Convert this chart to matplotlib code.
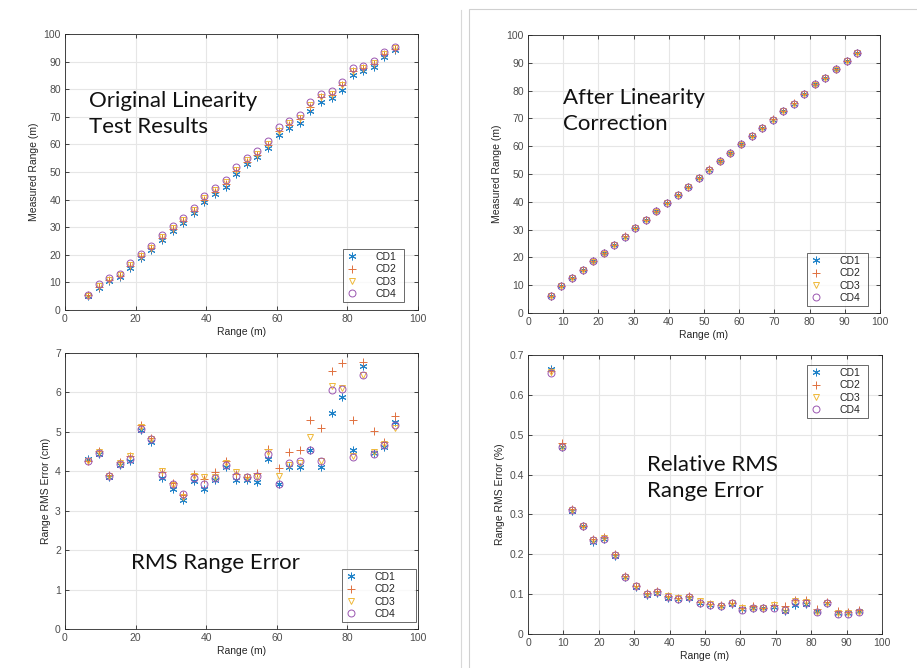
import matplotlib
matplotlib.use("Agg")
import matplotlib.pyplot as plt
from matplotlib.lines import Line2D
from matplotlib.patches import Rectangle

# ---------------- data ----------------
rng_x = [6.5, 9.5, 12.5, 15.5, 18.5, 21.5, 24.5, 27.5, 30.5, 33.5,
         36.5, 39.5, 42.5, 45.5, 48.5, 51.5, 54.5, 57.5, 60.5, 63.5,
         66.5, 69.5, 72.5, 75.5, 78.5, 81.5, 84.5, 87.5, 90.5, 93.5]
series_names = ["CD1", "CD2", "CD3", "CD4"]

# Original linearity (measured range, m)
orig_cd1 = [5.1, 7.9, 10.5, 12.0, 15.3, 18.8, 21.6, 25.4, 28.6, 31.4, 35.0, 39.0, 41.9, 44.7, 49.4,
            52.8, 55.3, 58.6, 63.3, 65.9, 67.7, 72.2, 75.5, 76.9, 79.7, 85.1, 86.5, 88.1, 91.8, 94.3]
orig_cd2 = [5.3, 8.4, 10.9, 12.4, 15.9, 19.5, 22.3, 26.1, 29.4, 32.2, 36.0, 40.0, 42.9, 45.8, 50.4,
            53.8, 56.2, 59.7, 64.7, 67.1, 69.1, 73.6, 77.0, 77.9, 81.4, 86.5, 87.5, 89.2, 92.6, 94.7]
orig_cd3 = [5.2, 8.7, 11.0, 12.6, 16.2, 19.6, 22.6, 26.5, 29.7, 32.6, 36.4, 40.4, 43.3, 46.2, 50.8,
            54.2, 56.7, 60.2, 64.9, 67.6, 69.6, 74.1, 77.1, 78.4, 81.6, 86.7, 87.7, 89.5, 92.7, 94.8]
orig_cd4 = [5.4, 9.3, 11.5, 12.9, 16.9, 20.2, 23.2, 27.2, 30.4, 33.2, 37.1, 41.4, 44.1, 47.1, 51.9,
            55.2, 57.6, 61.4, 66.2, 68.6, 70.7, 75.2, 78.3, 79.3, 82.7, 87.6, 88.5, 90.2, 93.4, 95.2]

# After linearity correction (measured range, m)
corr_cd1 = [6.1, 9.7, 12.6, 15.4, 18.6, 21.5, 24.4, 27.5, 30.5, 33.5, 36.6, 39.6, 42.5, 45.4, 48.6,
            51.6, 54.5, 57.4, 60.7, 63.6, 66.5, 69.6, 72.7, 75.3, 78.7, 82.2, 84.5, 87.6, 90.6, 93.6]
corr_cd2 = [6.2, 9.8, 12.6, 15.5, 18.7, 21.6, 24.5, 27.6, 30.6, 33.6, 36.6, 39.7, 42.6, 45.5, 48.7,
            51.7, 54.6, 57.5, 60.8, 63.7, 66.6, 69.7, 72.8, 75.4, 78.8, 82.3, 84.6, 87.7, 90.7, 93.7]
corr_cd3 = [6.0, 9.6, 12.5, 15.4, 18.5, 21.4, 24.4, 27.4, 30.4, 33.4, 36.5, 39.5, 42.4, 45.4, 48.5,
            51.5, 54.4, 57.3, 60.6, 63.5, 66.4, 69.5, 72.6, 75.2, 78.6, 82.1, 84.4, 87.5, 90.5, 93.5]
corr_cd4 = [6.1, 9.7, 12.6, 15.4, 18.6, 21.5, 24.5, 27.5, 30.5, 33.5, 36.6, 39.6, 42.5, 45.5, 48.6,
            51.6, 54.5, 57.4, 60.7, 63.6, 66.5, 69.6, 72.7, 75.3, 78.7, 82.2, 84.5, 87.6, 90.6, 93.6]

# RMS range error (cm)
rms_cd1 = [4.30, 4.44, 3.85, 4.16, 4.25, 5.05, 4.75, 3.83, 3.55, 3.27, 3.76, 3.55, 3.78, 4.10, 3.77,
           3.77, 3.72, 4.31, 3.68, 4.12, 4.12, 4.55, 4.12, 5.49, 5.88, 4.53, 6.66, 4.46, 4.62, 5.25]
rms_cd2 = [4.27, 4.52, 3.90, 4.24, 4.38, 5.18, 4.85, 3.98, 3.70, 3.40, 3.93, 3.80, 3.99, 4.27, 3.92,
           3.85, 3.96, 4.57, 4.08, 4.50, 4.53, 5.30, 5.09, 6.55, 6.74, 5.30, 6.77, 5.03, 4.74, 5.40]
rms_cd3 = [4.25, 4.50, 3.88, 4.20, 4.38, 5.12, 4.82, 4.00, 3.65, 3.35, 3.88, 3.85, 3.85, 4.22, 3.97,
           3.85, 3.86, 4.50, 3.87, 4.15, 4.20, 4.88, 4.25, 6.17, 6.10, 4.40, 6.45, 4.50, 4.70, 5.10]
rms_cd4 = [4.27, 4.46, 3.88, 4.18, 4.30, 5.07, 4.81, 3.90, 3.67, 3.43, 3.82, 3.67, 3.82, 4.16, 3.87,
           3.85, 3.88, 4.43, 3.68, 4.20, 4.25, 4.54, 4.27, 6.05, 6.08, 4.37, 6.43, 4.43, 4.66, 5.18]

# Relative RMS range error (%)
rel_cd1 = [0.665, 0.470, 0.309, 0.270, 0.232, 0.238, 0.195, 0.142, 0.117, 0.098, 0.104, 0.090, 0.088, 0.091, 0.078,
           0.074, 0.071, 0.076, 0.062, 0.065, 0.064, 0.067, 0.058, 0.073, 0.075, 0.058, 0.079, 0.052, 0.052, 0.057]
rel_cd2 = [0.660, 0.478, 0.313, 0.272, 0.238, 0.243, 0.200, 0.145, 0.121, 0.102, 0.107, 0.095, 0.091, 0.096, 0.081,
           0.076, 0.072, 0.079, 0.066, 0.069, 0.066, 0.074, 0.069, 0.085, 0.085, 0.063, 0.080, 0.058, 0.054, 0.059]
rel_cd3 = [0.658, 0.470, 0.310, 0.270, 0.236, 0.240, 0.197, 0.143, 0.120, 0.100, 0.106, 0.096, 0.090, 0.094, 0.082,
           0.075, 0.070, 0.078, 0.064, 0.066, 0.065, 0.073, 0.061, 0.082, 0.080, 0.056, 0.078, 0.052, 0.052, 0.055]
rel_cd4 = [0.655, 0.468, 0.311, 0.270, 0.235, 0.238, 0.197, 0.143, 0.120, 0.100, 0.105, 0.092, 0.089, 0.093, 0.079,
           0.074, 0.070, 0.077, 0.061, 0.065, 0.064, 0.066, 0.059, 0.080, 0.077, 0.056, 0.078, 0.051, 0.051, 0.056]

# ---------------- style ----------------
colors = ["#1f82c8", "#e0703f", "#efb93a", "#9a55b0"]
markers = [(6, 2, 0), "+", "v", "o"]
msizes = [5.5, 6, 5, 5]
tick_col = "#4d4d4d"
font_ui = ["Liberation Sans", "DejaVu Sans"]
font_txt = ["Lato", "DejaVu Sans"]

W, H = 917, 668
fig = plt.figure(figsize=(W / 100, H / 100), dpi=100)
fig.patch.set_facecolor("white")


def rect(l, t, r, b):
    return [l / W, 1 - b / H, (r - l) / W, (b - t) / H]


def style_axes(ax, xt, yt, ylim, ylabel, yfmt=None):
    ax.set_xlim(0, 100)
    ax.set_ylim(*ylim)
    ax.set_xticks(xt)
    ax.set_yticks(yt)
    if yfmt:
        ax.set_yticklabels([yfmt(v) for v in yt])
    ax.grid(True, color="#e6e6e6", linewidth=0.8)
    ax.set_axisbelow(True)
    ax.tick_params(direction="in", length=3, width=0.6, top=True, right=True,
                   labelsize=7.5, colors="#262626", labelcolor=tick_col, pad=3)
    for sp in ax.spines.values():
        sp.set_color("#262626")
        sp.set_linewidth(0.6)
    for lab in ax.get_xticklabels() + ax.get_yticklabels():
        lab.set_family(font_ui)
    ax.set_xlabel("Range (m)", fontsize=7.5, color="#262626", family=font_ui, labelpad=2)
    ax.set_ylabel(ylabel, fontsize=7.5, color="#262626", family=font_ui, labelpad=3)


def plot_series(ax, data):
    for name, ys, c, m, ms in zip(series_names, data, colors, markers, msizes):
        ax.plot(rng_x, ys, linestyle="none", marker=m, markersize=ms,
                markerfacecolor="none", markeredgecolor=c, markeredgewidth=0.7,
                label=name)


def add_legend(ax, l, t, r, b):
    bbox = (l / W, 1 - b / H, (r - l) / W, (b - t) / H)
    leg = ax.legend(loc="lower left", bbox_to_anchor=bbox, bbox_transform=fig.transFigure,
                    mode="expand", frameon=True, fancybox=False, handlelength=1.2,
                    handletextpad=1.6, borderpad=0.3, labelspacing=0.22,
                    borderaxespad=0, prop={"family": font_ui, "size": 7.5})
    leg.get_frame().set_edgecolor("#262626")
    leg.get_frame().set_linewidth(0.6)
    for t in leg.get_texts():
        t.set_color("#262626")
    return leg


TXT = 16
LS = 1.4

# top-left
ax1 = fig.add_axes(rect(65, 34, 418, 310))
plot_series(ax1, [orig_cd1, orig_cd2, orig_cd3, orig_cd4])
style_axes(ax1, range(0, 101, 20), range(0, 101, 10), (0, 100), "Measured Range (m)")
add_legend(ax1, 343, 249, 404, 302)
ax1.text((89 - 65) / 353, 1 - (114 - 34) / 276, "Original Linearity\nTest Results",
         transform=ax1.transAxes, fontsize=TXT, family=font_txt, color="#111111",
         va="center", ha="left", linespacing=LS)

# bottom-left
ax2 = fig.add_axes(rect(65, 353, 418, 629))
plot_series(ax2, [rms_cd1, rms_cd2, rms_cd3, rms_cd4])
style_axes(ax2, range(0, 101, 20), range(0, 8, 1), (0, 7), "Range RMS Error (cm)")
add_legend(ax2, 342, 568, 416, 622)
ax2.text((131 - 65) / 353, 1 - (563 - 353) / 276, "RMS Range Error",
         transform=ax2.transAxes, fontsize=TXT, family=font_txt, color="#111111",
         va="center", ha="left")

# top-right
ax3 = fig.add_axes(rect(528, 35, 880, 313))
plot_series(ax3, [corr_cd1, corr_cd2, corr_cd3, corr_cd4])
style_axes(ax3, range(0, 101, 10), range(0, 101, 10), (0, 100), "Measured Range (m)")
add_legend(ax3, 807, 250, 868, 306)
ax3.text((563 - 528) / 352, 1 - (111 - 35) / 278, "After Linearity\nCorrection",
         transform=ax3.transAxes, fontsize=TXT, family=font_txt, color="#111111",
         va="center", ha="left", linespacing=LS)

# bottom-right
ax4 = fig.add_axes(rect(528, 355, 882, 634))
plot_series(ax4, [rel_cd1, rel_cd2, rel_cd3, rel_cd4])
yt4 = [0, 0.1, 0.2, 0.3, 0.4, 0.5, 0.6, 0.7]
style_axes(ax4, range(0, 101, 10), yt4, (0, 0.7), "Range RMS Error (%)",
           yfmt=lambda v: "0" if v == 0 else f"{v:.1f}")
add_legend(ax4, 807, 362, 868, 418)
ax4.text((647 - 528) / 354, 1 - (478 - 355) / 279, "Relative RMS\nRange Error",
         transform=ax4.transAxes, fontsize=TXT, family=font_txt, color="#111111",
         va="center", ha="left", linespacing=LS)

# separator and right panel frame
fig.add_artist(Line2D([461 / W, 461 / W], [0, 1 - 10 / H], transform=fig.transFigure,
                      color="#d9d9d9", linewidth=0.8))
fig.add_artist(Rectangle((469 / W, -0.01), 0.6, 1 - 9 / H + 0.01, transform=fig.transFigure,
                         fill=False, edgecolor="#d0d0d0", linewidth=0.8))

fig.savefig("out.png", dpi=100, facecolor="white")
